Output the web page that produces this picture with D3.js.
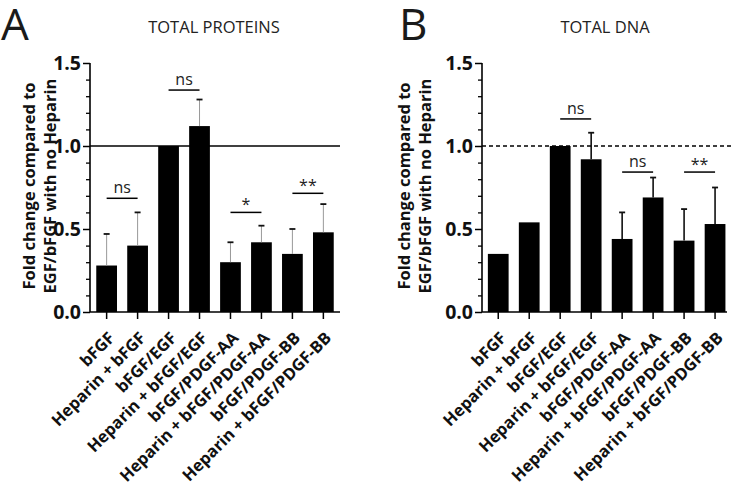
<!DOCTYPE html>
<html><head><meta charset="utf-8">
<script src="https://cdn.jsdelivr.net/npm/d3@7"></script>
<style>
body{margin:0;background:#fff;}
svg{display:block;}
text{font-family:"Open Sans",sans-serif;}
</style></head>
<body><svg id="c" width="732" height="492"></svg>
<script>
const categories = ["bFGF","Heparin + bFGF","bFGF/EGF","Heparin + bFGF/EGF","bFGF/PDGF-AA","Heparin + bFGF/PDGF-AA","bFGF/PDGF-BB","Heparin + bFGF/PDGF-BB"];
const proteinMean = [0.28,0.40,1.00,1.12,0.30,0.42,0.35,0.48];
const proteinSD   = [0.19,0.20,0,0.16,0.12,0.10,0.15,0.17];
const dnaMean = [0.35,0.54,1.00,0.92,0.44,0.69,0.43,0.53];
const dnaSD   = [0,0,0,0.16,0.16,0.12,0.19,0.22];
const proteinSig = [[0,1,0.685,"ns"],[2,3,1.337,"ns"],[4,5,0.60,"*"],[6,7,0.715,"**"]];
const dnaSig = [[2,3,1.163,"ns"],[4,5,0.843,"ns"],[6,7,0.843,"**"]];
const yTicks = [0,0.5,1.0,1.5];
const yMinor = [0.1,0.2,0.3,0.4,0.6,0.7,0.8,0.9,1.1,1.2,1.3,1.4];

const svg = d3.select("#c");
const y = d3.scaleLinear().domain([0,1.5]).range([312,63]);

function panel(o){
  const g = svg.append("g");
  const x = d3.scaleBand().domain(categories).range([o.x0, o.x1]).paddingInner(0.33).paddingOuter(0.17);
  // letter + title
  g.append("text").attr("x",o.letterX).attr("y",40).attr("font-family","'Liberation Sans',Arial,sans-serif")
    .attr("font-size",44).attr("fill","#1a1a1a").text(o.letter);
  g.append("text").attr("x",o.titleX).attr("y",33).attr("text-anchor","middle").attr("font-size",16.5).attr("fill","#222").text(o.title);
  // y label
  const yl = g.append("text").attr("transform",`translate(${o.ylx},186) rotate(-90)`).attr("text-anchor","middle").attr("font-size",16.5).attr("font-weight",700).attr("fill","#111");
  yl.append("tspan").attr("x",0).attr("y",0).text("Fold change compared to");
  yl.append("tspan").attr("x",0).attr("y",21).text("EGF/bFGF with no Heparin");
  // bars
  g.selectAll("rect.bar").data(o.mean).join("rect")
    .attr("x",(d,i)=>x(categories[i])).attr("width",x.bandwidth())
    .attr("y",d=>y(d)).attr("height",d=>y(0)-y(d)).attr("fill","#000");
  // error bars
  const eb = g.selectAll("g.eb").data(o.mean.map((m,i)=>({m,s:o.sd[i],c:categories[i]})).filter(d=>d.s>0)).join("g");
  eb.append("line").attr("x1",d=>x(d.c)+x.bandwidth()/2).attr("x2",d=>x(d.c)+x.bandwidth()/2)
    .attr("y1",d=>y(d.m)).attr("y2",d=>y(d.m+d.s)).attr("stroke",o.errColor).attr("stroke-width",o.errW);
  eb.append("line").attr("x1",d=>x(d.c)+x.bandwidth()/2-3).attr("x2",d=>x(d.c)+x.bandwidth()/2+3)
    .attr("y1",d=>y(d.m+d.s)).attr("y2",d=>y(d.m+d.s)).attr("stroke","#111").attr("stroke-width",1.8);
  // reference line
  g.append("line").attr("x1",o.axisX).attr("x2",o.refEnd).attr("y1",y(1)).attr("y2",y(1))
    .attr("stroke","#000").attr("stroke-width",1.3).attr("stroke-dasharray",o.dash);
  // significance
  o.sig.forEach(([a,b,v,lab])=>{
    const xa = x(categories[a])+x.bandwidth()/2, xb = x(categories[b])+x.bandwidth()/2;
    g.append("line").attr("x1",xa).attr("x2",xb).attr("y1",y(v)).attr("y2",y(v)).attr("stroke","#000").attr("stroke-width",1.5);
    g.append("text").attr("x",(xa+xb)/2).attr("y",y(v)-(lab==="ns"?5:2)).attr("text-anchor","middle")
      .attr("font-size",16).attr("fill","#222").text(lab);
  });
  // y axis
  const ya = g.append("g").attr("transform",`translate(${o.axisX},0)`)
    .call(d3.axisLeft(y).tickValues(yTicks).tickFormat(d3.format(".1f")).tickSize(7).tickPadding(2));
  ya.select(".domain").attr("stroke-width",1.6).attr("d",`M0,${y(1.5)}V${y(0)}`);
  ya.selectAll(".tick line").attr("stroke-width",1.5);
  ya.selectAll(".tick text").attr("font-family","'Open Sans',sans-serif").attr("font-size",19.5).attr("font-weight",700).attr("fill","#111");
  const ym = g.append("g").attr("transform",`translate(${o.axisX},0)`)
    .call(d3.axisLeft(y).tickValues(yMinor).tickFormat("").tickSize(4));
  ym.select(".domain").remove();
  ym.selectAll(".tick line").attr("stroke-width",1.3);
  // x axis
  const xa = g.append("g").attr("transform",`translate(0,${y(0)})`)
    .call(d3.axisBottom(x).tickSize(7).tickSizeOuter(0));
  xa.select(".domain").remove();
  g.append("line").attr("x1",o.axisX).attr("x2",o.axisEnd).attr("y1",y(0)).attr("y2",y(0)).attr("stroke","#000").attr("stroke-width",1.6);
  xa.selectAll(".tick line").attr("stroke-width",1.5);
  xa.selectAll(".tick text").attr("font-family","'Open Sans',sans-serif").attr("font-size",16.5).attr("font-weight",700).attr("fill","#111")
    .attr("text-anchor","end").attr("dy",0).attr("y",0)
    .attr("transform","translate(9,27) rotate(-45)");
}

panel({letter:"A",letterX:1,title:"TOTAL PROTEINS",titleX:214,ylx:35,x0:91,x1:339,axisX:90,axisEnd:340,refEnd:340,
  mean:proteinMean,sd:proteinSD,sig:proteinSig,errColor:"#999",errW:1,dash:null});
panel({letter:"B",letterX:399,title:"TOTAL DNA",titleX:605,ylx:410,x0:482.6,x1:730.7,axisX:482,axisEnd:727,refEnd:732,
  mean:dnaMean,sd:dnaSD,sig:dnaSig,errColor:"#000",errW:1.5,dash:"4,3"});
</script></body></html>
